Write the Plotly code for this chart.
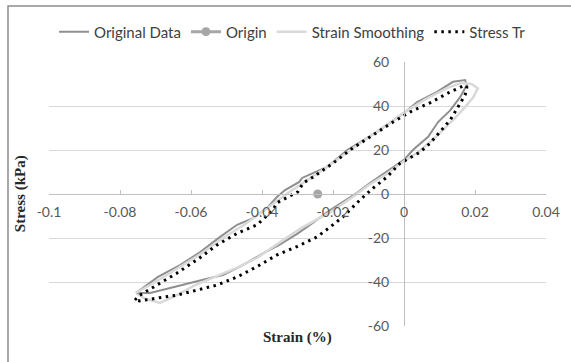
import plotly.graph_objects as go

# ---- data (strain %, stress kPa) ----
orig_strain = [-0.0755, -0.0693, -0.0631, -0.0575, -0.0518, -0.047, -0.0425, -0.0386, -0.0358,
               -0.0335, -0.0295, -0.0287, -0.0217, -0.016, -0.0076, 0.0, 0.0037, 0.0093, 0.0138,
               0.0172, 0.0177, 0.0158, 0.013, 0.0096, 0.0068, 0.0025, 0.0, -0.004, -0.0096,
               -0.0132, -0.0175, -0.0208, -0.0256, -0.030, -0.035, -0.0397, -0.0454, -0.051,
               -0.0566, -0.0623, -0.0679, -0.0715, -0.0755]
orig_stress = [-45, -37.7, -32.3, -26.5, -19.5, -14, -11, -6.4, -1.4,
               1.8, 5.5, 7.3, 12.3, 20, 28.2, 36.8, 41.8, 46.4, 51,
               51.8, 49.5, 44, 38, 32.7, 26, 20, 15.5, 11, 5,
               0.5, -4, -7.3, -13, -18, -23, -27, -32.3, -36.8,
               -39, -41.4, -43.6, -45, -45]

origin_strain = [-0.0243]
origin_stress = [0]

smooth_strain = [-0.0755, -0.069, -0.063, -0.057, -0.051, -0.045, -0.039, -0.034, -0.0285,
                 -0.022, -0.016, -0.008, 0.0, 0.006, 0.012, 0.016, 0.019, 0.0208, 0.0195,
                 0.0172, 0.0138, 0.009, 0.004, 0.0, -0.005, -0.01, -0.015, -0.021, -0.029,
                 -0.035, -0.0414, -0.047, -0.053, -0.059, -0.064, -0.0687, -0.073, -0.0755]
smooth_stress = [-45, -39, -33, -27, -20, -14, -7, -1, 5,
                 12, 19, 28, 37, 43, 48, 50.5, 50, 48, 44,
                 39.5, 33.6, 26, 19, 15, 9, 4, -2, -8.5, -15.5,
                 -22, -29, -33.5, -37.5, -41.5, -46, -49.5, -47.5, -45]

tr_strain = [-0.0758, -0.0744, -0.0687, -0.064, -0.0575, -0.0527, -0.047, -0.0414, -0.0369,
             -0.0358, -0.0299, -0.0284, -0.0256, -0.02, -0.0144, -0.0087, -0.0031, 0.0025,
             0.0073, 0.013, 0.0172, 0.0177, 0.0172, 0.0152, 0.013, 0.0101, 0.0073, 0.0045,
             0.0017, -0.0011, -0.0048, -0.0087, -0.0124, -0.0172, -0.0208, -0.0245, -0.030,
             -0.0358, -0.0414, -0.047, -0.0527, -0.0583, -0.064, -0.0696, -0.0744, -0.0758]
tr_stress = [-48.2, -46, -40.5, -36, -29, -23.2, -17.9, -14, -7.3,
             -4, 1, 5, 7.7, 14, 20.9, 26.8, 32.7, 38,
             41.4, 46.4, 49.5, 48.6, 45, 39.5, 33.6, 28.2, 23, 19,
             16.4, 14, 7.7, 2.7, -2.7, -10.4, -15, -19.5, -23.8,
             -27.7, -33, -37.7, -41.4, -43.6, -46, -47.3, -48.6, -48.2]

x_ticks = [-0.1, -0.08, -0.06, -0.04, -0.02, 0, 0.02, 0.04]
x_tick_text = ["-0.1", "-0.08", "-0.06", "-0.04", "-0.02", "0", "0.02", "0.04"]
y_ticks = [-60, -40, -20, 0, 20, 40, 60]
y_tick_text = ["-60", "-40", "-20", "0", "20", "40", "60"]

X_MIN, X_MAX = -0.1, 0.04
Y_MIN, Y_MAX = -60, 60

FONT = "Lato"
TXT = "#595959"

fig = go.Figure()
fig.add_trace(go.Scatter(x=orig_strain, y=orig_stress, mode="lines", name="Original Data",
                         line=dict(color="#8f8f8f", width=2)))
fig.add_trace(go.Scatter(x=origin_strain, y=origin_stress, mode="lines+markers", name="Origin",
                         line=dict(color="#a6a6a6", width=3),
                         marker=dict(color="#a6a6a6", size=9)))
fig.add_trace(go.Scatter(x=smooth_strain, y=smooth_stress, mode="lines", name="Strain Smoothing",
                         line=dict(color="#d9d9d9", width=2.5)))
fig.add_trace(go.Scatter(x=tr_strain, y=tr_stress, mode="lines", name="Stress Tr",
                         line=dict(color="#000000", width=3, dash="2.5px,4.5px")))

fig.update_layout(
    width=571, height=362,
    margin=dict(l=49, r=25, t=62, b=36),
    paper_bgcolor="white", plot_bgcolor="white",
    font=dict(family=FONT, size=14, color=TXT),
    showlegend=True,
    legend=dict(orientation="h", x=0.49, xanchor="center", y=1.114, yanchor="middle",
                font=dict(family=FONT, size=15, color="#404040"),
                itemwidth=30, tracegroupgap=0, bgcolor="rgba(0,0,0,0)"),
    xaxis=dict(range=[X_MIN, X_MAX], tickvals=x_ticks, ticktext=x_tick_text,
               showgrid=False, zeroline=False,
               showline=True, linecolor="#bfbfbf", linewidth=1,
               ticks="inside", ticklen=4, tickcolor="#bfbfbf",
               anchor="free", position=(0 - Y_MIN) / (Y_MAX - Y_MIN),
               ticklabelstandoff=5,
               tickfont=dict(family=FONT, size=14, color=TXT)),
    yaxis=dict(range=[Y_MIN, Y_MAX], tickvals=y_ticks, ticktext=y_tick_text,
               showgrid=True, gridcolor="#d9d9d9", gridwidth=1, zeroline=False,
               showline=True, linecolor="#bfbfbf", linewidth=1,
               ticks="", anchor="free", position=(0 - X_MIN) / (X_MAX - X_MIN),
               ticklabelstandoff=12,
               tickfont=dict(family=FONT, size=14, color=TXT)),
    annotations=[
        dict(text="<b>Stress (kPa)</b>", xref="paper", yref="paper", x=-0.058, y=0.5,
             textangle=-90, showarrow=False, xanchor="center", yanchor="middle",
             font=dict(family="Liberation Serif", size=15, color="#262626")),
        dict(text="<b>Strain (%)</b>", xref="paper", yref="paper", x=0.5, y=-0.042,
             showarrow=False, xanchor="center", yanchor="middle",
             font=dict(family="Liberation Serif", size=15, color="#262626")),
    ],
    shapes=[dict(type="rect", xref="paper", yref="paper", x0=-0.0825, x1=1.3, y0=-0.4, y1=1.212,
                 line=dict(color="#8c8c8c", width=1.5), fillcolor="rgba(0,0,0,0)", layer="below")],
)

fig.write_html("out.html")
